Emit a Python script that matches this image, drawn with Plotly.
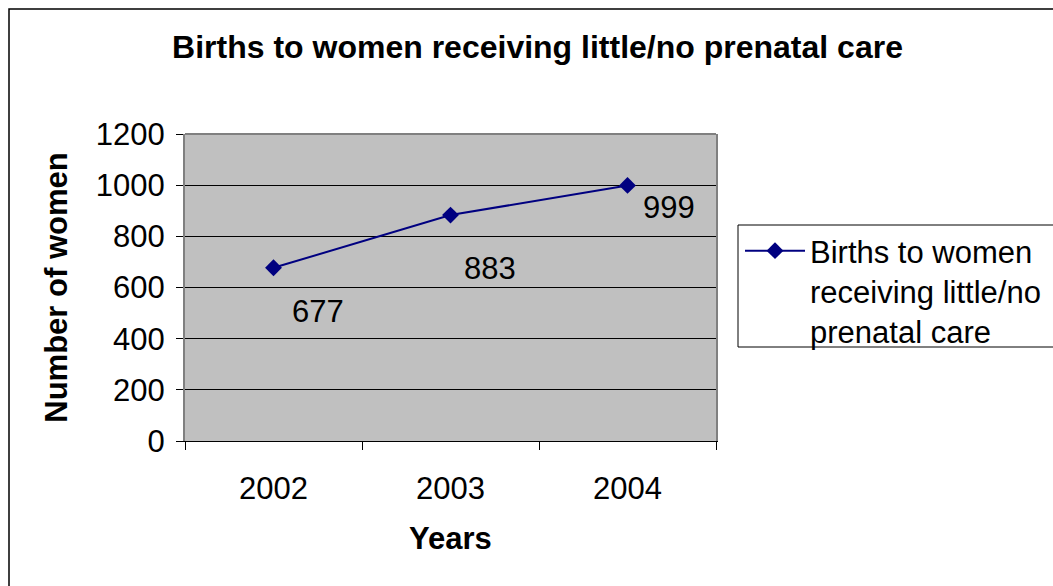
import plotly.graph_objects as go

# Chart data
years = ["2002", "2003", "2004"]
births = [677, 883, 999]
series_name = "Births to women<br>receiving little/no<br>prenatal care"
y_ticks = [0, 200, 400, 600, 800, 1000, 1200]

# Per-point label offsets (pixels) for the value labels
label_dx = [44, 39, 41]
label_dy = [-44, -53, -22]

FONT = "Liberation Sans, Arial, sans-serif"
NAVY = "#000080"
FS = 31

W, H = 1053, 586
ML, MR, MT, MB = 185, 337, 134, 145
PW, PH = W - ML - MR, H - MT - MB


def px_to_paper_x(px):
    return (px - ML) / PW


def px_to_paper_y(py):
    return (H - MB - py) / PH


fig = go.Figure()
fig.add_trace(go.Scatter(
    x=years, y=births, mode="lines+markers", name=series_name,
    line=dict(color=NAVY, width=2),
    marker=dict(symbol="diamond", size=13, color=NAVY),
))

# value labels, placed at each category's index on the category axis
annotations = []
for i, (v, dx, dy) in enumerate(zip(births, label_dx, label_dy)):
    annotations.append(dict(
        x=i, y=v, xref="x", yref="y", text=str(v), showarrow=False,
        xshift=dx, yshift=dy, font=dict(family=FONT, size=FS, color="black"),
    ))

shapes = [
    # outer chart frame (extends past the right/bottom edge)
    dict(type="rect", xref="paper", yref="paper",
         x0=px_to_paper_x(9), x1=px_to_paper_x(1080),
         y0=px_to_paper_y(610), y1=px_to_paper_y(9),
         line=dict(color="black", width=1.5)),
    # top edge of plot area
    dict(type="line", xref="paper", yref="paper", x0=0, x1=1, y0=1, y1=1,
         line=dict(color="#808080", width=2)),
    # legend frame
    dict(type="rect", xref="paper", yref="paper",
         x0=px_to_paper_x(738), x1=px_to_paper_x(1080),
         y0=px_to_paper_y(347), y1=px_to_paper_y(225),
         line=dict(color="black", width=1)),
]

fig.update_layout(
    width=W, height=H,
    margin=dict(l=ML, r=MR, t=MT, b=MB, autoexpand=False),
    paper_bgcolor="white",
    plot_bgcolor="#C0C0C0",
    font=dict(family=FONT, size=FS, color="black"),
    title=dict(
        text="<b>Births to women receiving little/no prenatal care</b>",
        x=537.5 / W, xref="container", xanchor="center",
        y=1 - 47 / H, yref="container", yanchor="middle",
        font=dict(family=FONT, size=32, color="black"),
    ),
    xaxis=dict(
        type="category", categoryorder="array", categoryarray=years,
        range=[-0.5, len(years) - 0.5], autorange=False,
        showgrid=False, zeroline=False,
        showline=True, linecolor="black", linewidth=1,
        ticks="outside", ticklen=8, tickcolor="black", tickwidth=1,
        tickson="boundaries", tickangle=0, ticklabelstandoff=20,
        tickfont=dict(family=FONT, size=FS),
        title=dict(text="<b>Years</b>", font=dict(family=FONT, size=FS), standoff=22),
    ),
    yaxis=dict(
        range=[0, 1200], autorange=False,
        tickvals=y_ticks, ticktext=[str(t) for t in y_ticks],
        showgrid=True, gridcolor="black", gridwidth=1, zeroline=False,
        showline=True, mirror=True, linecolor="#808080", linewidth=2,
        ticks="outside", ticklen=7, tickcolor="black", tickwidth=1,
        ticklabelstandoff=5,
        tickfont=dict(family=FONT, size=FS),
        title=dict(text="<b>Number of women</b>", font=dict(family=FONT, size=FS), standoff=19),
    ),
    showlegend=True,
    legend=dict(
        x=px_to_paper_x(740), xanchor="left",
        y=px_to_paper_y(224), yanchor="top",
        bgcolor="rgba(0,0,0,0)", borderwidth=0,
        font=dict(family=FONT, size=FS, color="black"),
        valign="top", itemwidth=60,
    ),
    annotations=annotations,
    shapes=shapes,
)

fig.write_html("out.html")
